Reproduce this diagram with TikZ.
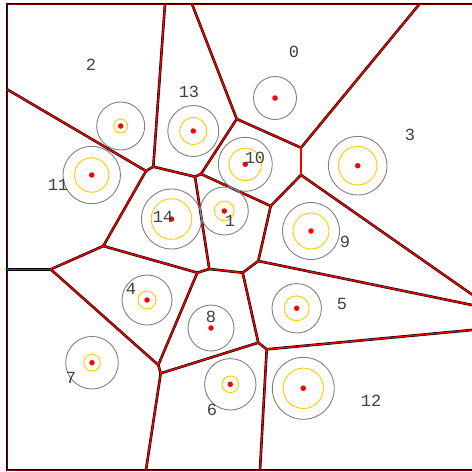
\documentclass[tikz,border=0pt]{standalone}
\usepackage{fontspec}
\newfontfamily\labfont{Liberation Mono}
\definecolor{ringgray}{RGB}{128,128,128}
\definecolor{ringyel}{RGB}{255,200,0}
\definecolor{labgray}{RGB}{64,64,64}
\begin{document}
\begin{tikzpicture}[x=1pt,y=-1pt,
  site/.style={circle,fill=red,inner sep=0pt,minimum size=5.5pt},
  outer/.style={draw=ringgray,line width=0.9pt},
  inner/.style={draw=ringyel,line width=0.9pt},
  lab/.style={text=labgray,font=\labfont\fontsize{17}{17}\selectfont,inner sep=0pt},
  edgeblack/.style={draw=black,line width=2.6pt,line cap=round},
  edgered/.style={draw=red,line width=1.3pt,line cap=round}]
\useasboundingbox (0,0) rectangle (472,472);
\fill[white] (0,0) rectangle (472,472);
\clip (0,0) rectangle (472,472);
% Voronoi vertices
\coordinate (V1) at (165,4);
\coordinate (V2) at (192,4);
\coordinate (V3) at (419.5,4);
\coordinate (L1) at (7,89.3);
\coordinate (L2) at (7,269.3);
\coordinate (B1) at (146,470);
\coordinate (B2) at (260,470);
\coordinate (R1) at (472,294.5);
\coordinate (R2) at (472,305);
\coordinate (R3) at (472,330);
\coordinate (a) at (146,171);
\coordinate (b) at (153.3,166.7);
\coordinate (c) at (195,176.7);
\coordinate (d) at (201,174);
\coordinate (e) at (236.7,119);
\coordinate (f) at (301,147.7);
\coordinate (g) at (301,175);
\coordinate (h) at (270.7,206);
\coordinate (i) at (103.3,246);
\coordinate (j) at (50.7,269.3);
\coordinate (k) at (209.3,269);
\coordinate (l) at (197.3,272.7);
\coordinate (m) at (242.7,272.7);
\coordinate (n) at (258.3,261);
\coordinate (o) at (158.3,365);
\coordinate (p) at (160.7,373.3);
\coordinate (q) at (258.3,342.7);
\coordinate (r) at (266.7,349.3);
\coordinate (FA) at (7,4);
\coordinate (FB) at (480,470);
% frame
\draw[draw=black,line width=2.2pt] (FA) rectangle (FB);
\draw[draw=red!45!black,line width=1pt] (FA) rectangle (FB);
% edges
\foreach \s/\t in {V1/b,V2/e,V3/f,L1/a,a/b,b/c,c/d,d/e,e/f,f/g,d/h,g/h,g/R1,h/n,c/k,a/i,i/j,L2/j,i/l,l/k,k/m,m/n,n/R2,l/o,j/o,o/p,p/q,q/m,q/r,r/R3,p/B1,r/B2}
  \draw[edgeblack] (\s)--(\t);
\foreach \s/\t in {V1/b,V2/e,V3/f,L1/a,a/b,b/c,c/d,d/e,e/f,f/g,d/h,g/h,g/R1,h/n,c/k,a/i,i/j,L2/j,i/l,l/k,k/m,m/n,n/R2,l/o,j/o,o/p,p/q,q/m,q/r,r/R3,p/B1,r/B2}
  \draw[edgered] (\s)--(\t);
% sites: name / position / outer r / inner r
\foreach \nm/\x/\y/\ro/\ri in {0/275/98/21.5/0,13/193.3/131/25.5/13.5,2/120.7/126/24/7,10/245.3/164.3/27/16.2,3/357.7/165.7/29.3/19.3,11/91.7/175/28.7/17.2,14/171.5/219/30/20.3,1/224.3/211/24/9.8,9/311/231/28.5/18,4/147/300/25/9,8/211/328/23/0,5/296.7/308.3/24.7/12.5,7/92/362.7/26.3/8.3,6/230.3/384.3/25.7/8.3,12/303.3/388.3/31/20.2}{
  \draw[outer] (\x,\y) circle[radius=\ro];
  \ifdim \ri pt>0pt \draw[inner] (\x,\y) circle[radius=\ri]; \fi
  \node[site] (s\nm) at (\x,\y) {};
}
% labels
\node[lab] (t0) at (294,52) {0};
\node[lab] (t13) at (189,92) {13};
\node[lab] (t2) at (91,65) {2};
\node[lab] (t10) at (255,158) {10};
\node[lab] (t3) at (410,135) {3};
\node[lab] (t11) at (58,185) {11};
\node[lab] (t14) at (163,217) {14};
\node[lab] (t1) at (230,221) {1};
\node[lab] (t9) at (345,242) {9};
\node[lab] (t4) at (131,289) {4};
\node[lab] (t8) at (211,317) {8};
\node[lab] (t5) at (342,304) {5};
\node[lab] (t7) at (71,378) {7};
\node[lab] (t6) at (212,410) {6};
\node[lab] (t12) at (371,401) {12};
\end{tikzpicture}
\end{document}
